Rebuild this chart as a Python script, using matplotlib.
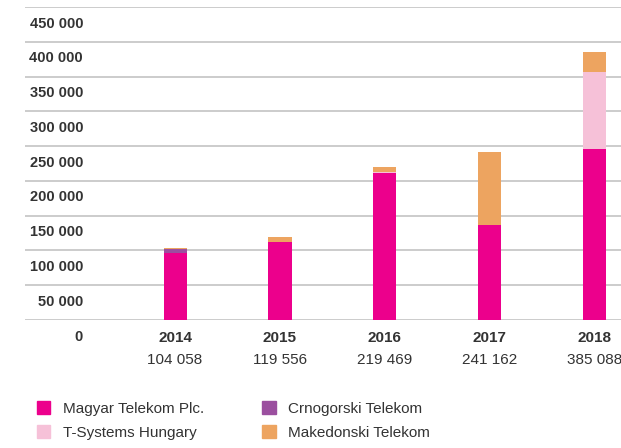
import matplotlib.pyplot as plt
import numpy as np
from matplotlib.transforms import ScaledTranslation
from matplotlib.patches import Patch

plt.rcParams['font.family'] = ['Liberation Sans Narrow', 'Liberation Sans', 'DejaVu Sans']

years = ['2014', '2015', '2016', '2017', '2018']
totals = ['104 058', '119 556', '219 469', '241 162', '385 088']

magyar = np.array([96000, 112700, 210900, 136000, 246000])
crnogorski = np.array([5500, 0, 0, 0, 0])
tsystems = np.array([0, 0, 2500, 0, 110700])
makedonski = np.array([2558, 6856, 6069, 105162, 28388])

series = ['Magyar Telekom Plc.', 'Crnogorski Telekom', 'T-Systems Hungary', 'Makedonski Telekom']
colors = ['#EC008C', '#9B4F9F', '#F6C1D8', '#EDA460']

yticks = np.arange(0, 450001, 50000)
ylabels = ['0', '50 000', '100 000', '150 000', '200 000', '250 000',
           '300 000', '350 000', '400 000', '450 000']

fig = plt.figure(figsize=(6.21, 4.48), dpi=100)
ax = fig.add_axes([25 / 621, 128 / 448, 596 / 621, 313 / 448])

x = np.arange(len(years))
bottom = np.zeros(len(years))
for vals, c in zip([magyar, crnogorski, tsystems, makedonski], colors):
    ax.bar(x, vals, width=0.22, bottom=bottom, color=c, zorder=3)
    bottom += vals

ax.set_xlim(-1.43, 4.25)
ax.set_ylim(0, 450000)
ax.set_yticks(yticks)
ax.set_yticklabels(ylabels)
for y in yticks:
    ax.axhline(y, color='#c8c8c8', lw=1.3, zorder=1)

ax.tick_params(axis='y', length=0, pad=0, labelsize=10.5, labelcolor='#333333')
for lbl in ax.get_yticklabels():
    lbl.set_fontweight('bold')
    lbl.set_transform(lbl.get_transform() + ScaledTranslation(0.58, -0.15, fig.dpi_scale_trans))

ax.set_xticks(x)
ax.set_xticklabels([f'{y}' for y in years], fontweight='bold', fontsize=11, color='#333333')
ax.tick_params(axis='x', length=0, pad=8)
for xi, t in zip(x, totals):
    ax.annotate(t, (xi, 0), xytext=(0, -34), textcoords='offset points', ha='center',
                va='bottom', fontsize=11, color='#333333')

for s in ax.spines.values():
    s.set_visible(False)

handles = [Patch(color=c) for c in colors]
order = [0, 2, 1, 3]
fig.legend([handles[i] for i in order], [series[i] for i in order], ncol=2,
           loc='upper left', bbox_to_anchor=(0.037, 0.135), frameon=False,
           handlelength=0.9, handleheight=0.9, handletextpad=0.8, columnspacing=3.8,
           labelspacing=0.6, prop={'size': 11}, labelcolor='#333333')

fig.savefig('out.png', dpi=100)
